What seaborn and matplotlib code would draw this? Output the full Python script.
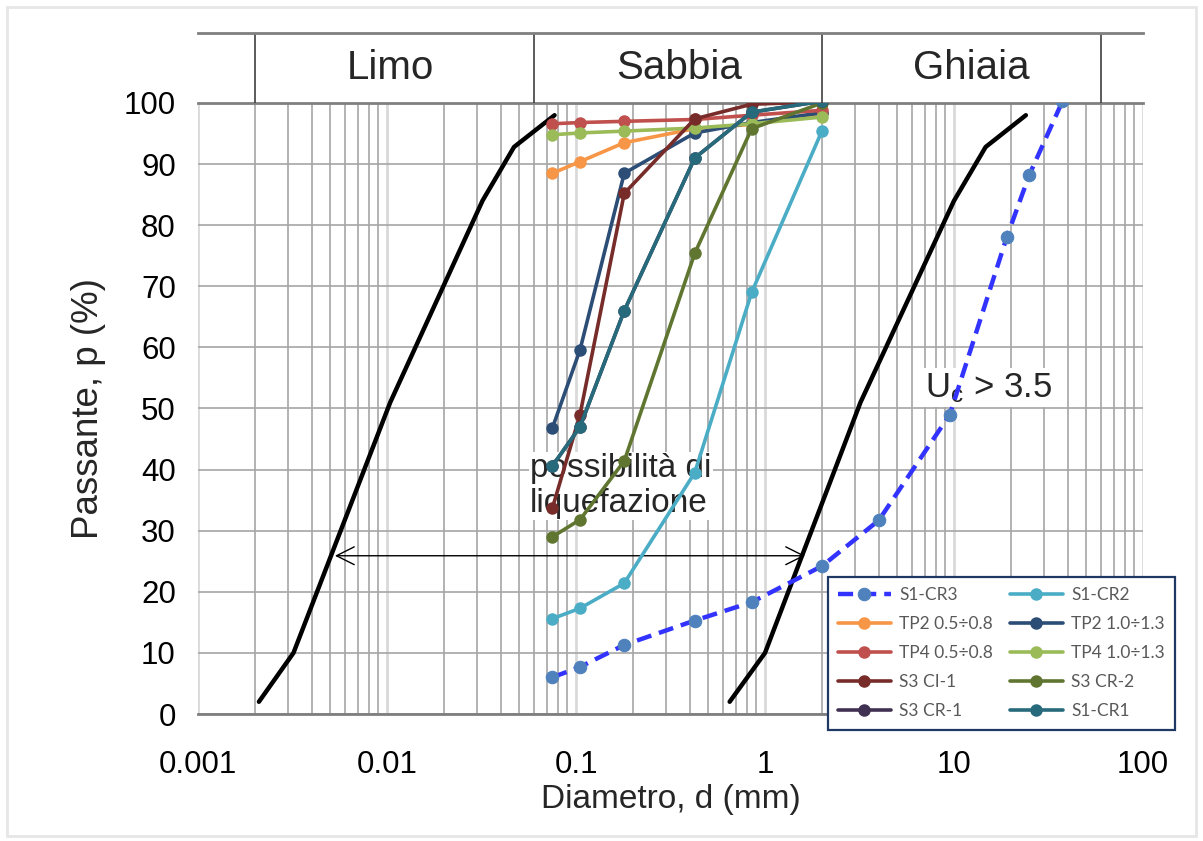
import numpy as np
import pandas as pd
import matplotlib
matplotlib.use("Agg")
import matplotlib.pyplot as plt
import seaborn as sns
from matplotlib.ticker import LogLocator, NullFormatter, FixedLocator
from matplotlib.patches import Rectangle

# ---------------- data ----------------
sieves = [0.075, 0.105, 0.18, 0.425, 0.85, 2.0]
sieves_cr3 = [0.075, 0.105, 0.18, 0.425, 0.85, 2.0, 4.0, 9.5, 19.0, 25.0, 37.5]

s1_cr3 = [6.0, 7.7, 11.3, 15.3, 18.3, 24.2, 31.7, 49.0, 78.0, 88.2, 100.3]
s1_cr2 = [15.6, 17.3, 21.4, 39.5, 69.0, 95.4]
tp2_05 = [88.5, 90.4, 93.5, 95.8, 96.5, 98.3]
tp2_10 = [46.8, 59.6, 88.5, 95.1, 96.8, 98.4]
tp4_05 = [96.6, 96.8, 97.0, 97.3, 98.0, 98.8]
tp4_10 = [94.8, 95.1, 95.4, 95.9, 96.6, 97.7]
s3_ci1 = [33.7, 49.0, 85.2, 97.4, 99.8, 100.2]
s3_cr2 = [29.0, 31.8, 41.4, 75.4, 95.8, 100.0]
s3_cr1 = [40.6, 47.0, 66.0, 91.0, 98.5, 100.3]
s1_cr1 = [40.6, 47.0, 66.0, 91.0, 98.5, 100.3]

# limit curves (fuso granulometrico)
fuso_sx_d = [0.0021, 0.0032, 0.0104, 0.032, 0.047, 0.077]
fuso_dx_d = [0.65, 1.0, 3.2, 10.0, 14.7, 24.0]
fuso_p = [2.0, 10.0, 51.0, 84.0, 92.8, 98.0]

arrow_d = [0.0053, 1.63]
arrow_p = 25.9

header_bounds = [0.002, 0.06, 2.0, 60.0]
header_labels = ["Limo", "Sabbia", "Ghiaia"]
header_label_pos = [0.0104, 0.35, 12.4]

xtick_vals = [0.001, 0.01, 0.1, 1, 10, 100]
xtick_labels = ["0.001", "0.01", "0.1", "1", "10", "100"]
ytick_vals = list(range(0, 101, 10))

series = [
    ("S1-CR3", sieves_cr3, s1_cr3, "#3333ff"),
    ("S1-CR2", sieves, s1_cr2, "#4bacc6"),
    ("TP2 0.5÷0.8", sieves, tp2_05, "#f79646"),
    ("TP2 1.0÷1.3", sieves, tp2_10, "#2c4d75"),
    ("TP4 0.5÷0.8", sieves, tp4_05, "#c0504d"),
    ("TP4 1.0÷1.3", sieves, tp4_10, "#9bbb59"),
    ("S3 CI-1", sieves, s3_ci1, "#772c2a"),
    ("S3 CR-2", sieves, s3_cr2, "#5f7530"),
    ("S3 CR-1", sieves, s3_cr1, "#403152"),
    ("S1-CR1", sieves, s1_cr1, "#276a7c"),
]

# ---------------- style ----------------
sns.set_theme(style="white")
plt.rcParams["font.family"] = ["Liberation Sans", "DejaVu Sans"]
plt.rcParams["mathtext.fontset"] = "custom"
plt.rcParams["mathtext.rm"] = "Liberation Sans"
plt.rcParams["mathtext.it"] = "Liberation Sans"

fig = plt.figure(figsize=(12.03, 8.41), dpi=100)
fig.patch.set_facecolor("white")
ax = fig.add_axes([0.16459, 0.15101, 0.78554, 0.72652])
axh = fig.add_axes([0.16459, 0.87753, 0.78554, 0.08323])

# ---------------- main axes ----------------
ax.set_xscale("log")
ax.set_xlim(0.001, 100)
ax.set_ylim(0, 100)
ax.set_axisbelow(True)
ax.xaxis.set_major_locator(FixedLocator(xtick_vals))
ax.set_xticklabels(xtick_labels)
ax.xaxis.set_minor_locator(LogLocator(base=10, subs=np.arange(2, 10)))
ax.xaxis.set_minor_formatter(NullFormatter())
ax.set_yticks(ytick_vals)
ax.grid(which="major", axis="x", color="#d9d9d9", lw=2.0, zorder=0)
ax.grid(which="minor", axis="x", color="#a6a6a6", lw=1.2, zorder=0)
ax.grid(which="major", axis="y", color="#a6a6a6", lw=1.2, zorder=0)
ax.tick_params(axis="x", which="both", length=0, pad=26, labelsize=22.5, colors="black")
ax.tick_params(axis="y", which="both", length=0, pad=16, labelsize=22.5, colors="black")
for s in ["left", "right"]:
    ax.spines[s].set_visible(False)
ax.spines["bottom"].set_color("#7f7f7f")
ax.spines["bottom"].set_linewidth(2)
ax.spines["top"].set_color("#7f7f7f")
ax.spines["top"].set_linewidth(2)
ax.set_xlabel("Diametro, d (mm)", fontsize=24, labelpad=3)
ax.set_ylabel("Passante, p (%)", fontsize=26.5, labelpad=13)

# limit curves
sns.lineplot(x=fuso_sx_d, y=fuso_p, ax=ax, color="black", lw=3.2,
             estimator=None, sort=False, zorder=2)
sns.lineplot(x=fuso_dx_d, y=fuso_p, ax=ax, color="black", lw=3.2,
             estimator=None, sort=False, zorder=2)

# data series
for name, xs, ys, col in series:
    if name == "S1-CR3":
        sns.lineplot(x=xs, y=ys, ax=ax, color=col, lw=3.2,
                     linestyle=(0, (3.4, 1.8)), marker="o", markersize=9,
                     markerfacecolor="#4f81bd", markeredgecolor="#4f81bd",
                     estimator=None, sort=False, label=name, zorder=3)
    else:
        sns.lineplot(x=xs, y=ys, ax=ax, color=col, lw=2.6, marker="o",
                     markersize=9, markeredgewidth=0, markerfacecolor=col,
                     estimator=None, sort=False, label=name, zorder=3)

# arrow
ax.annotate("", xy=(arrow_d[0], arrow_p), xytext=(arrow_d[1], arrow_p),
            arrowprops=dict(arrowstyle="<->", color="black", lw=1.0,
                            mutation_scale=32, shrinkA=0, shrinkB=0),
            zorder=2.5)

# annotations
ax.text(0.0571, 37.3, "possibilità di\nliquefazione", fontsize=24,
        ha="left", va="center", linespacing=1.15, zorder=1.5,
        bbox=dict(fc="white", ec="none", pad=1))
ax.text(7.0, 51.9, r"$\mathrm{U_c}$ > 3.5", fontsize=25, ha="left",
        va="baseline", zorder=1.5, bbox=dict(fc="white", ec="none", pad=2))

# legend (row-wise order as in the original)
handles, labels = ax.get_legend_handles_labels()
hmap = dict(zip(labels, handles))
names = [s[0] for s in series]
order = names[0::2] + names[1::2]
leg = ax.legend([hmap[n] for n in order], order, ncol=2, loc="upper left",
                bbox_to_anchor=(828 / 1203, 1 - 577 / 841),
                bbox_transform=fig.transFigure, borderaxespad=0,
                prop={"family": ["Lato", "DejaVu Sans"], "size": 12.5},
                frameon=True, fancybox=False, framealpha=1,
                edgecolor="#203864", handlelength=3.0, handletextpad=0.5,
                columnspacing=1.0, labelspacing=0.75, borderpad=0.6)
leg.get_frame().set_linewidth(1.6)
for t in leg.get_texts():
    t.set_color("#595959")

# ---------------- header ----------------
axh.set_xscale("log")
axh.set_xlim(0.001, 100)
axh.set_ylim(0, 1)
axh.set_xticks([])
axh.set_yticks([])
axh.minorticks_off()
axh.tick_params(which="both", length=0, labelbottom=False, labelleft=False)
axh.patch.set_alpha(0)
for s in ["left", "right", "bottom"]:
    axh.spines[s].set_visible(False)
axh.spines["top"].set_color("#7f7f7f")
axh.spines["top"].set_linewidth(2)
for b in header_bounds:
    axh.axvline(b, color="#404040", lw=1.2)
for lab, pos in zip(header_labels, header_label_pos):
    axh.text(pos, 0.5, lab, ha="center", va="center", fontsize=29)

# figure border
fig.add_artist(Rectangle((0.006, 0.006), 0.988, 0.986, transform=fig.transFigure,
                         fill=False, ec="#e6e6e6", lw=2))

fig.savefig("out.png", dpi=100)
